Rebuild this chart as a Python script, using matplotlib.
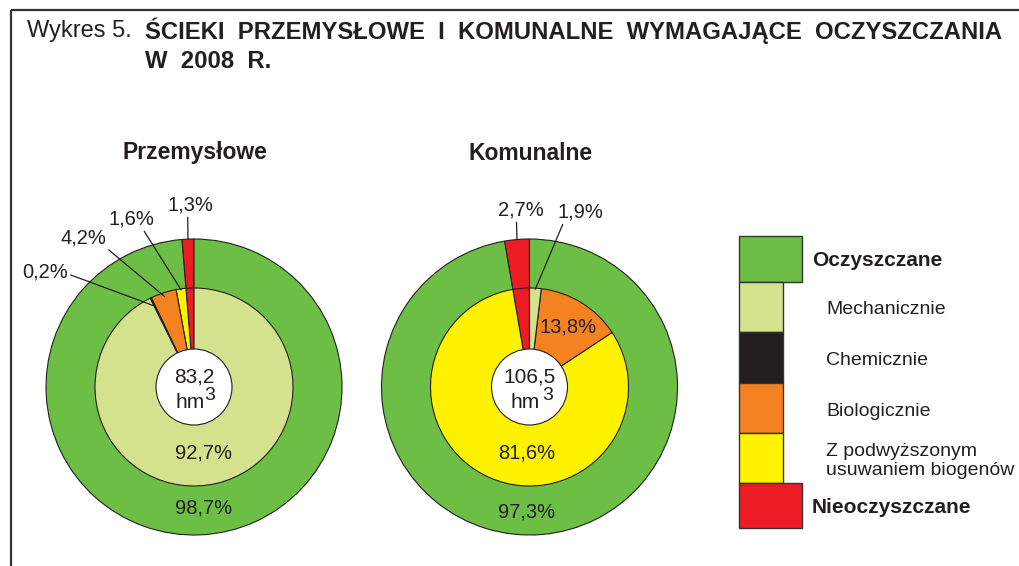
import matplotlib
matplotlib.use("Agg")
import matplotlib.pyplot as plt
from matplotlib.patches import Circle, Rectangle
from matplotlib import font_manager
import numpy as np

# font: Arial-like, condensed for the heading if available
names = {f.name for f in font_manager.fontManager.ttflist}
narrow = "Liberation Sans Narrow" if "Liberation Sans Narrow" in names else "Liberation Sans"
plt.rcParams["font.family"] = ["Liberation Sans", "DejaVu Sans"]

# data
charts = ["Przemysłowe", "Komunalne"]
totals = ["83,2", "106,5"]
treated = [98.7, 97.3]
untreated = [1.3, 2.7]
# inner breakdown, counterclockwise from 12 o'clock: untreated, Z podw., biol., chem., mech.
inner_ind = [1.3, 1.6, 4.2, 0.2, 92.7]
inner_kom = [2.7, 81.6, 13.8, 0.0, 1.9]
legend_labels = ["Oczyszczane", "Mechanicznie", "Chemicznie", "Biologicznie",
                 "Z podwyższonym\nusuwaniem biogenów", "Nieoczyszczane"]

GREEN = "#6DBE45"
MECH = "#D5E28D"
CHEM = "#231F20"
BIO = "#F58220"
YEL = "#FFF200"
RED = "#ED1C24"
EDGE = "#231F20"
TXT = "#231F20"
inner_colors = [RED, YEL, BIO, CHEM, MECH]

W, H = 1020, 566
fig = plt.figure(figsize=(W / 100, H / 100), dpi=100)
ax = fig.add_axes([0, 0, 1, 1])

def py(y):
    # pixel row (from top) -> data y
    return H - y

R_OUT, R_IN, R_HOLE = 148, 99, 38
centers = [(194, py(387)), (529.5, py(387))]
wp = dict(edgecolor=EDGE, linewidth=0.8)

for c, tr, un, inner in zip(centers, treated, untreated, [inner_ind, inner_kom]):
    ax.pie([un, tr], colors=[RED, GREEN], radius=R_OUT, center=c,
           startangle=90, counterclock=True, wedgeprops=wp)
    vals = [v for v in inner if v > 0]
    cols = [col for v, col in zip(inner, inner_colors) if v > 0]
    ax.pie(vals, colors=cols, radius=R_IN, center=c,
           startangle=90, counterclock=True, wedgeprops=wp)
    ax.add_patch(Circle(c, R_HOLE, facecolor="white", edgecolor=EDGE,
                        linewidth=0.8, zorder=5))

ax.set_xlim(0, W)
ax.set_ylim(0, H)
ax.set_aspect("equal")
ax.axis("off")

# frame
ax.plot([11, W], [py(10), py(10)], color="#333333", lw=1.6, solid_capstyle="butt")
ax.plot([11, 11], [py(10), 0], color="#333333", lw=1.6, solid_capstyle="butt")

# heading
ax.text(27, py(31), "Wykres 5.", fontsize=17, family=narrow, color=TXT,
        va="center", ha="left")
ax.text(145, py(31), "ŚCIEKI  PRZEMYSŁOWE  I  KOMUNALNE  WYMAGAJĄCE  OCZYSZCZANIA",
        fontsize=17.2, family=narrow, fontweight="bold", color=TXT, va="center", ha="left")
ax.text(145, py(62), "W  2008  R.", fontsize=17.2, family=narrow, fontweight="bold",
        color=TXT, va="center", ha="left")

# chart titles
for (cx, cy), name in zip(centers, charts):
    ax.text(cx + 1, py(153), name, fontsize=16.5, fontweight="bold", color=TXT,
            ha="center", va="center")

# centre totals
for (cx, cy), tot, dx in zip(centers, totals, [16, 18]):
    ax.text(cx, cy + 10, tot, fontsize=15, color=TXT, ha="center", va="center", zorder=6)
    ax.text(cx - 4, cy - 16, "hm", fontsize=15, color=TXT, ha="center", va="center", zorder=6)
    ax.text(cx + dx, cy - 8, "3", fontsize=14, color=TXT,
            ha="center", va="center", zorder=6)

fs = 14.5

def pct(v):
    return f"{v:.1f}%".replace(".", ",")

# big percentages
ax.text(204, py(453), pct(inner_ind[4]), fontsize=fs, color=TXT, ha="center", va="center")
ax.text(204, py(508), pct(treated[0]), fontsize=fs, color=TXT, ha="center", va="center")
ax.text(527, py(453), pct(inner_kom[1]), fontsize=fs, color=TXT, ha="center", va="center")
ax.text(527, py(512), pct(treated[1]), fontsize=fs, color=TXT, ha="center", va="center")
ax.text(568, py(327), pct(inner_kom[2]), fontsize=fs, color=TXT, ha="center", va="center")

def mid_angle(values, idx):
    start = 90 + 3.6 * sum(values[:idx])
    return np.radians(start + 1.8 * values[idx])

def leader(c, r, ang, text_xy, relpos, label):
    tip = (c[0] + r * np.cos(ang), c[1] + r * np.sin(ang))
    ax.annotate(label, xy=tip, xytext=text_xy, fontsize=fs, color=TXT,
                ha="center", va="center",
                arrowprops=dict(arrowstyle="-", color=EDGE, lw=0.9,
                                relpos=relpos, shrinkA=0, shrinkB=0))

# left chart leaders
c = centers[0]
leader(c, R_OUT, mid_angle([untreated[0], treated[0]], 0), (190, py(205)), (0.45, 0), pct(untreated[0]))
leader(c, R_IN - 1, mid_angle(inner_ind, 1), (131, py(219)), (0.75, 0), pct(inner_ind[1]))
leader(c, R_IN - 4, mid_angle(inner_ind, 2), (83, py(238)), (1.0, 0), pct(inner_ind[2]))
leader(c, R_IN - 9, mid_angle(inner_ind, 3), (45, py(272)), (1.0, 0.4), pct(inner_ind[3]))

# right chart leaders
c = centers[1]
leader(c, R_OUT, mid_angle([untreated[1], treated[1]], 0), (521, py(210)), (0.4, 0), pct(untreated[1]))
leader(c, R_IN - 1, mid_angle(inner_kom, 4), (580, py(212)), (0.15, 0), pct(inner_kom[4]))

# legend
x0 = 739
heights = [46, 50, 51, 50, 50, 45]
widths = [63, 44, 44, 44, 44, 63]
leg_colors = [GREEN, MECH, CHEM, BIO, YEL, RED]
top = 236
for i, (lab, h, w, col) in enumerate(zip(legend_labels, heights, widths, leg_colors)):
    ax.add_patch(Rectangle((x0, py(top + h)), w, h, facecolor=col,
                           edgecolor="#333333", linewidth=1.0, zorder=3))
    yc = py(top + h / 2)
    if i in (0, 5):
        ax.text(812, yc - 2, lab, fontsize=15, fontweight="bold", color=TXT,
                ha="left", va="center")
    else:
        ax.text(826, yc - 3, lab, fontsize=14, color=TXT,
                ha="left", va="center", linespacing=1.15)
    top += h

fig.savefig("out.png", dpi=100)
